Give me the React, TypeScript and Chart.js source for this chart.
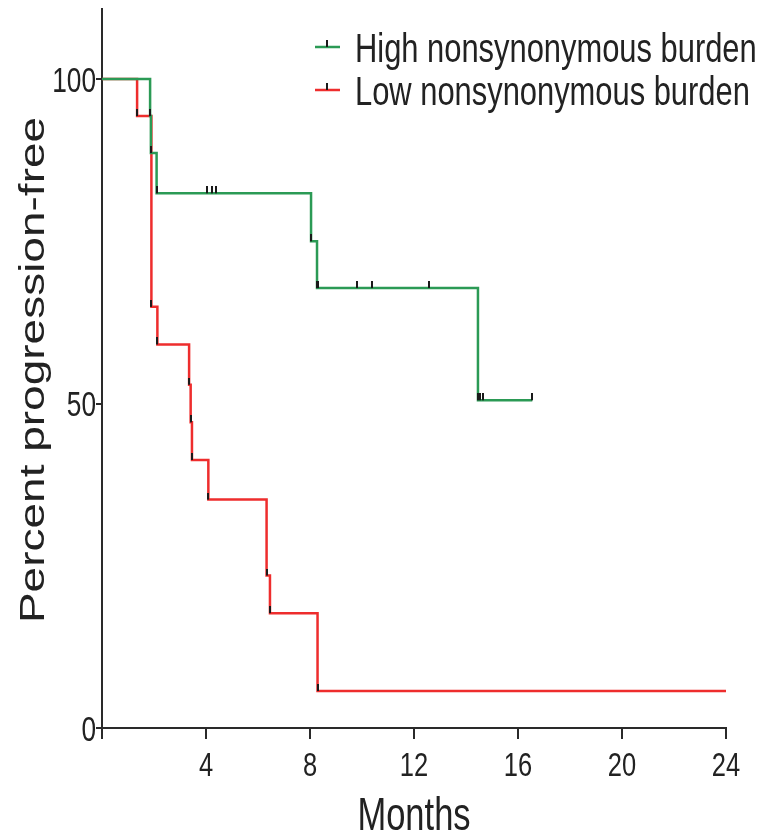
import React, { useEffect, useRef } from "react";
import { Chart, registerables } from "chart.js";

Chart.register(...registerables);

// ---- data ----
const seriesNames = ["High nonsynonymous burden", "Low nonsynonymous burden"];
const highMonths = [0, 1.85, 1.88, 2.1, 4.03, 4.22, 4.38, 8.04, 8.27, 8.32, 9.8, 10.38, 12.56, 14.46, 14.54, 14.64, 16.55];
const highPct = [100, 94.3, 88.6, 82.4, 82.4, 82.4, 82.4, 75.0, 67.8, 67.8, 67.8, 67.8, 67.8, 50.5, 50.5, 50.5, 50.5];
const lowMonths = [0, 1.35, 1.9, 2.13, 3.35, 3.41, 3.46, 4.09, 6.33, 6.46, 8.29, 24];
const lowPct = [100, 94.3, 64.9, 59.1, 52.9, 47.1, 41.3, 35.2, 23.5, 17.7, 5.7, 5.7];
const xTickLabels = [4, 8, 12, 16, 20, 24];
const yTickLabels = [0, 50, 100];
const xTitle = "Months";
const yTitle = "Percent progression-free";

const GREEN = "#2b9a55";
const RED = "#ee2d2d";
const INK = "#222222";
const FONT = "'Liberation Sans', Arial, Helvetica, sans-serif";

function makeTick(): HTMLCanvasElement {
  const c = document.createElement("canvas");
  c.width = 2;
  c.height = 14;
  const g = c.getContext("2d")!;
  g.fillStyle = "#1a1a1a";
  g.fillRect(0, 0, 2, 7);
  return c;
}

function drawText(
  ctx: CanvasRenderingContext2D,
  text: string,
  x: number,
  y: number,
  size: number,
  align: CanvasTextAlign,
  sx: number,
  rotate = false
) {
  ctx.save();
  ctx.translate(x, y);
  if (rotate) {
    ctx.rotate(-Math.PI / 2);
    ctx.scale(1, sx);
  } else {
    ctx.scale(sx, 1);
  }
  ctx.font = `${size}px ${FONT}`;
  ctx.fillStyle = INK;
  ctx.textAlign = align;
  ctx.textBaseline = "alphabetic";
  ctx.fillText(text, 0, 0);
  ctx.restore();
}

const textPlugin = {
  id: "kmText",
  afterDraw(chart: any) {
    const ctx: CanvasRenderingContext2D = chart.ctx;
    const xs = chart.scales.x;
    const ys = chart.scales.y;
    const area = chart.chartArea;
    // y tick labels
    yTickLabels.forEach((v) => {
      drawText(ctx, String(v), 96, ys.getPixelForValue(v) + 12.5, 35, "right", 0.75);
    });
    // x tick labels
    xTickLabels.forEach((v) => {
      drawText(ctx, String(v), xs.getPixelForValue(v), 776, 34, "center", 0.75);
    });
    // axis titles
    drawText(ctx, xTitle, (area.left + area.right) / 2, 830, 46, "center", 0.75);
    drawText(ctx, yTitle, 44, 370, 46, "center", 0.75, true);
    // legend
    const colors = [GREEN, RED];
    const ly = [47, 90];
    seriesNames.forEach((name, i) => {
      ctx.save();
      ctx.strokeStyle = colors[i];
      ctx.lineWidth = 2.5;
      ctx.beginPath();
      ctx.moveTo(315, ly[i]);
      ctx.lineTo(340, ly[i]);
      ctx.stroke();
      ctx.fillStyle = "#1a1a1a";
      ctx.fillRect(326, ly[i] - 7, 2, 7);
      ctx.restore();
      drawText(ctx, name, 355, ly[i] + 15, 40, "left", 0.772);
    });
  },
};

export default function App() {
  const ref = useRef<HTMLCanvasElement>(null);
  useEffect(() => {
    if (!ref.current) return;
    const tick = makeTick();
    const lastIdx = (n: number) => (c: any) => (c.dataIndex === 0 || (n > 0 && c.dataIndex === n) ? 0 : 2);
    const chart = new Chart(ref.current, {
      type: "line",
      data: {
        datasets: [
          {
            label: seriesNames[0],
            data: highMonths.map((m, i) => ({ x: m, y: highPct[i] })),
            borderColor: GREEN,
            borderWidth: 2.5,
            stepped: true,
            pointStyle: tick as any,
            pointRadius: lastIdx(-1) as any,
            fill: false,
          },
          {
            label: seriesNames[1],
            data: lowMonths.map((m, i) => ({ x: m, y: lowPct[i] })),
            borderColor: RED,
            borderWidth: 2.5,
            stepped: true,
            pointStyle: tick as any,
            pointRadius: lastIdx(lowMonths.length - 1) as any,
            fill: false,
          },
        ],
      },
      options: {
        responsive: false,
        animation: false,
        devicePixelRatio: 1,
        layout: { padding: { left: 0, right: 41, top: 9, bottom: 0 } },
        plugins: { legend: { display: false }, tooltip: { enabled: false }, title: { display: false } },
        scales: {
          x: {
            type: "linear",
            min: 0,
            max: 24,
            ticks: { stepSize: 4, display: false },
            grid: { display: true, drawOnChartArea: false, drawTicks: true, tickLength: 11, color: "#2a2a2a", lineWidth: 2 },
            border: { display: true, color: "#2a2a2a", width: 2 },
            afterFit: (s: any) => {
              s.height = 106;
            },
          },
          y: {
            type: "linear",
            min: 0,
            max: 110.8,
            ticks: { stepSize: 50, display: false, includeBounds: false },
            grid: { display: true, drawOnChartArea: false, drawTicks: true, tickLength: 6, color: "#2a2a2a", lineWidth: 2 },
            border: { display: true, color: "#2a2a2a", width: 2 },
            afterFit: (s: any) => {
              s.width = 102;
            },
          },
        },
      },
      plugins: [textPlugin],
    });
    return () => chart.destroy();
  }, []);
  return (
    <div style={{ position: "fixed", left: 0, top: 0, width: 767, height: 834, background: "#fff" }}>
      <canvas ref={ref} width={767} height={834} style={{ display: "block" }} />
    </div>
  );
}
